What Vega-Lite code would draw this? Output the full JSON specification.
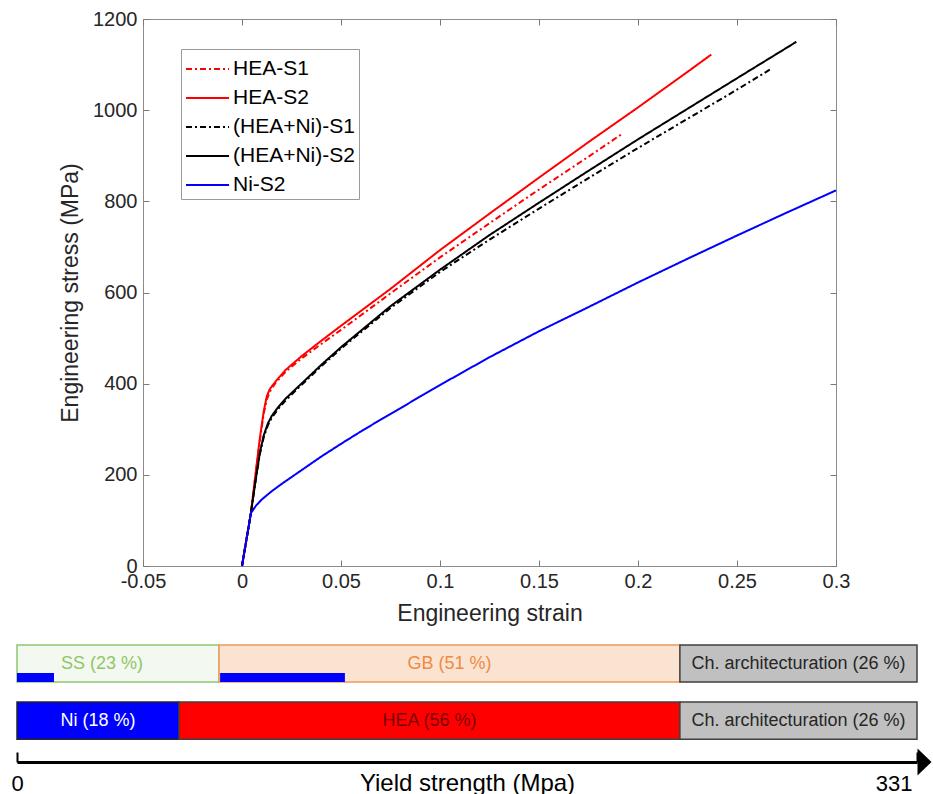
{
  "$schema": "https://vega.github.io/schema/vega-lite/v6.json",
  "padding": {"left": 10, "top": 8, "right": 0, "bottom": 0},
  "config": {"view": {"stroke": null}, "font": "Liberation Sans", "axis": {"grid": false}},
  "spacing": 18,
  "resolve": {
    "scale": {"color": "independent", "fill": "independent", "stroke": "independent", "strokeDash": "independent", "x": "independent", "y": "independent"},
    "legend": {"color": "independent", "strokeDash": "independent", "fill": "independent", "stroke": "independent"}
  },
  "vconcat": [
    {
      "spacing": 41,
      "resolve": {
        "scale": {"color": "independent", "strokeDash": "independent", "x": "independent", "y": "independent"},
        "legend": {"color": "independent", "strokeDash": "independent"}
      },
      "hconcat": [
        {"data": {"values": []}, "mark": "point", "width": 1, "height": 1},
        {
          "width": 693,
          "height": 547,
          "view": {"stroke": "#8c8c8c"},
          "data": {"values": [
            {"s": "HEA-S1", "e": 0, "v": 0}, {"s": "HEA-S1", "e": 0.0045, "v": 116}, {"s": "HEA-S1", "e": 0.007, "v": 205}, {"s": "HEA-S1", "e": 0.009, "v": 275}, {"s": "HEA-S1", "e": 0.011, "v": 335}, {"s": "HEA-S1", "e": 0.0125, "v": 365}, {"s": "HEA-S1", "e": 0.014, "v": 382}, {"s": "HEA-S1", "e": 0.017, "v": 402}, {"s": "HEA-S1", "e": 0.022, "v": 426}, {"s": "HEA-S1", "e": 0.03, "v": 455}, {"s": "HEA-S1", "e": 0.04, "v": 487}, {"s": "HEA-S1", "e": 0.05, "v": 518}, {"s": "HEA-S1", "e": 0.075, "v": 598}, {"s": "HEA-S1", "e": 0.1, "v": 677}, {"s": "HEA-S1", "e": 0.125, "v": 752}, {"s": "HEA-S1", "e": 0.15, "v": 826}, {"s": "HEA-S1", "e": 0.175, "v": 898}, {"s": "HEA-S1", "e": 0.192, "v": 948},
            {"s": "HEA-S2", "e": 0, "v": 0}, {"s": "HEA-S2", "e": 0.0045, "v": 116}, {"s": "HEA-S2", "e": 0.007, "v": 208}, {"s": "HEA-S2", "e": 0.009, "v": 280}, {"s": "HEA-S2", "e": 0.011, "v": 340}, {"s": "HEA-S2", "e": 0.0125, "v": 372}, {"s": "HEA-S2", "e": 0.014, "v": 388}, {"s": "HEA-S2", "e": 0.017, "v": 405}, {"s": "HEA-S2", "e": 0.022, "v": 430}, {"s": "HEA-S2", "e": 0.03, "v": 460}, {"s": "HEA-S2", "e": 0.04, "v": 494}, {"s": "HEA-S2", "e": 0.05, "v": 527}, {"s": "HEA-S2", "e": 0.075, "v": 608}, {"s": "HEA-S2", "e": 0.1, "v": 693}, {"s": "HEA-S2", "e": 0.125, "v": 773}, {"s": "HEA-S2", "e": 0.15, "v": 852}, {"s": "HEA-S2", "e": 0.175, "v": 930}, {"s": "HEA-S2", "e": 0.2, "v": 1006}, {"s": "HEA-S2", "e": 0.225, "v": 1084}, {"s": "HEA-S2", "e": 0.237, "v": 1122},
            {"s": "(HEA+Ni)-S1", "e": 0, "v": 0}, {"s": "(HEA+Ni)-S1", "e": 0.0045, "v": 116}, {"s": "(HEA+Ni)-S1", "e": 0.007, "v": 190}, {"s": "(HEA+Ni)-S1", "e": 0.009, "v": 245}, {"s": "(HEA+Ni)-S1", "e": 0.011, "v": 283}, {"s": "(HEA+Ni)-S1", "e": 0.013, "v": 308}, {"s": "(HEA+Ni)-S1", "e": 0.015, "v": 325}, {"s": "(HEA+Ni)-S1", "e": 0.018, "v": 343}, {"s": "(HEA+Ni)-S1", "e": 0.022, "v": 363}, {"s": "(HEA+Ni)-S1", "e": 0.03, "v": 397}, {"s": "(HEA+Ni)-S1", "e": 0.04, "v": 438}, {"s": "(HEA+Ni)-S1", "e": 0.05, "v": 477}, {"s": "(HEA+Ni)-S1", "e": 0.075, "v": 566}, {"s": "(HEA+Ni)-S1", "e": 0.1, "v": 645}, {"s": "(HEA+Ni)-S1", "e": 0.125, "v": 716}, {"s": "(HEA+Ni)-S1", "e": 0.15, "v": 784}, {"s": "(HEA+Ni)-S1", "e": 0.175, "v": 851}, {"s": "(HEA+Ni)-S1", "e": 0.2, "v": 917}, {"s": "(HEA+Ni)-S1", "e": 0.225, "v": 981}, {"s": "(HEA+Ni)-S1", "e": 0.25, "v": 1045}, {"s": "(HEA+Ni)-S1", "e": 0.267, "v": 1090},
            {"s": "(HEA+Ni)-S2", "e": 0, "v": 0}, {"s": "(HEA+Ni)-S2", "e": 0.0045, "v": 116}, {"s": "(HEA+Ni)-S2", "e": 0.007, "v": 192}, {"s": "(HEA+Ni)-S2", "e": 0.009, "v": 248}, {"s": "(HEA+Ni)-S2", "e": 0.011, "v": 287}, {"s": "(HEA+Ni)-S2", "e": 0.013, "v": 312}, {"s": "(HEA+Ni)-S2", "e": 0.015, "v": 329}, {"s": "(HEA+Ni)-S2", "e": 0.018, "v": 347}, {"s": "(HEA+Ni)-S2", "e": 0.022, "v": 367}, {"s": "(HEA+Ni)-S2", "e": 0.03, "v": 400}, {"s": "(HEA+Ni)-S2", "e": 0.04, "v": 441}, {"s": "(HEA+Ni)-S2", "e": 0.05, "v": 480}, {"s": "(HEA+Ni)-S2", "e": 0.075, "v": 570}, {"s": "(HEA+Ni)-S2", "e": 0.1, "v": 650}, {"s": "(HEA+Ni)-S2", "e": 0.125, "v": 726}, {"s": "(HEA+Ni)-S2", "e": 0.15, "v": 797}, {"s": "(HEA+Ni)-S2", "e": 0.175, "v": 867}, {"s": "(HEA+Ni)-S2", "e": 0.2, "v": 936}, {"s": "(HEA+Ni)-S2", "e": 0.225, "v": 1003}, {"s": "(HEA+Ni)-S2", "e": 0.25, "v": 1070}, {"s": "(HEA+Ni)-S2", "e": 0.28, "v": 1150},
            {"s": "Ni-S2", "e": 0, "v": 0}, {"s": "Ni-S2", "e": 0.002, "v": 52}, {"s": "Ni-S2", "e": 0.0045, "v": 116}, {"s": "Ni-S2", "e": 0.007, "v": 132}, {"s": "Ni-S2", "e": 0.01, "v": 146}, {"s": "Ni-S2", "e": 0.015, "v": 164}, {"s": "Ni-S2", "e": 0.02, "v": 180}, {"s": "Ni-S2", "e": 0.03, "v": 210}, {"s": "Ni-S2", "e": 0.04, "v": 240}, {"s": "Ni-S2", "e": 0.05, "v": 268}, {"s": "Ni-S2", "e": 0.06, "v": 295}, {"s": "Ni-S2", "e": 0.07, "v": 321}, {"s": "Ni-S2", "e": 0.08, "v": 346}, {"s": "Ni-S2", "e": 0.09, "v": 372}, {"s": "Ni-S2", "e": 0.1, "v": 397}, {"s": "Ni-S2", "e": 0.125, "v": 458}, {"s": "Ni-S2", "e": 0.15, "v": 515}, {"s": "Ni-S2", "e": 0.175, "v": 568}, {"s": "Ni-S2", "e": 0.2, "v": 622}, {"s": "Ni-S2", "e": 0.225, "v": 674}, {"s": "Ni-S2", "e": 0.25, "v": 725}, {"s": "Ni-S2", "e": 0.275, "v": 775}, {"s": "Ni-S2", "e": 0.3, "v": 824}
          ]},
          "layer": [
            {
              "mark": {"type": "line", "strokeWidth": 2},
              "encoding": {
                "x": {"field": "e", "type": "quantitative",
                  "scale": {"domain": [-0.05, 0.3], "nice": false, "zero": false},
                  "axis": {"title": "Engineering strain", "values": [-0.05, 0, 0.05, 0.1, 0.15, 0.2, 0.25, 0.3], "labelExpr": "'' + datum.value", "domain": false, "tickSize": -6, "tickColor": "#7a7a7a", "labelFontSize": 20, "labelColor": "#262626", "labelPadding": 11, "labelFlush": false, "labelOverlap": false, "titleFontSize": 23, "titleFontWeight": "normal", "titleColor": "#262626", "titlePadding": 11}},
                "y": {"field": "v", "type": "quantitative",
                  "scale": {"domain": [0, 1200], "nice": false},
                  "axis": {"title": "Engineering stress (MPa)", "values": [0, 200, 400, 600, 800, 1000, 1200], "format": "d", "domain": false, "tickSize": -6, "tickColor": "#7a7a7a", "labelFontSize": 20, "labelColor": "#262626", "labelPadding": 12, "labelFlush": false, "labelOverlap": false, "titleFontSize": 23, "titleFontWeight": "normal", "titleColor": "#262626", "titlePadding": 10}},
                "color": {"field": "s", "type": "nominal",
                  "scale": {"domain": ["HEA-S1", "HEA-S2", "(HEA+Ni)-S1", "(HEA+Ni)-S2", "Ni-S2"], "range": ["#ff0000", "#ff0000", "#000000", "#000000", "#0000ff"]},
                  "legend": {"title": null, "orient": "none", "legendX": 38, "legendY": 30, "fillColor": "white", "strokeColor": "#9a9a9a", "padding": 4, "labelFontSize": 21, "labelColor": "#000000", "symbolType": "M -1 0 L 1.87 0", "symbolSize": 900, "symbolStrokeWidth": 2, "rowPadding": 3, "labelOffset": 16}},
                "strokeDash": {"field": "s", "type": "nominal",
                  "scale": {"domain": ["HEA-S1", "HEA-S2", "(HEA+Ni)-S1", "(HEA+Ni)-S2", "Ni-S2"], "range": [[6, 3, 2, 3], [1, 0], [6, 3, 2, 3], [1, 0], [1, 0]]},
                  "legend": {"title": null, "orient": "none", "legendX": 38, "legendY": 30, "fillColor": "white", "strokeColor": "#9a9a9a", "padding": 4, "labelFontSize": 21, "labelColor": "#000000", "symbolType": "M -1 0 L 1.87 0", "symbolSize": 900, "symbolStrokeWidth": 2, "rowPadding": 3, "labelOffset": 16}}
              }
            },
            {
              "mark": {"type": "point", "opacity": 0},
              "encoding": {
                "x": {"field": "e", "type": "quantitative", "axis": {"orient": "top", "values": [-0.05, 0, 0.05, 0.1, 0.15, 0.2, 0.25, 0.3], "labels": false, "title": null, "domain": false, "tickSize": -6, "tickColor": "#7a7a7a"}},
                "y": {"field": "v", "type": "quantitative", "axis": {"orient": "right", "values": [0, 200, 400, 600, 800, 1000, 1200], "labels": false, "title": null, "domain": false, "tickSize": -6, "tickColor": "#7a7a7a"}}
              }
            }
          ],
          "resolve": {"axis": {"x": "independent", "y": "independent"}}
        }
      ]
    },
    {
      "width": 900,
      "height": 117,
      "data": {"values": [
        {"kind": "seg", "row": "r1", "part": "SS", "from": 0, "to": 74.3, "label": "SS (23 %)"},
        {"kind": "seg", "row": "r1", "part": "GB", "from": 74.3, "to": 243.8, "label": "GB (51 %)"},
        {"kind": "seg", "row": "r1", "part": "Ch", "from": 243.8, "to": 331, "label": "Ch. architecturation (26 %)"},
        {"kind": "seg", "row": "r2", "part": "Ni", "from": 0, "to": 59.6, "label": "Ni (18 %)"},
        {"kind": "seg", "row": "r2", "part": "HEA", "from": 59.6, "to": 243.8, "label": "HEA (56 %)"},
        {"kind": "seg", "row": "r2", "part": "Ch", "from": 243.8, "to": 331, "label": "Ch. architecturation (26 %)"},
        {"kind": "ni", "row": "r1", "part": "NiSS", "from": 0, "to": 13.6, "label": ""},
        {"kind": "ni", "row": "r1", "part": "NiGB", "from": 74.7, "to": 120.6, "label": ""}
      ]},
      "layer": [
        {
          "transform": [{"filter": "datum.kind === 'seg'"}],
          "mark": {"type": "bar", "strokeWidth": 1.5},
          "encoding": {
            "x": {"field": "from", "type": "quantitative",
              "scale": {"domain": [0, 331], "nice": false, "zero": false},
              "axis": {"title": "Yield strength (Mpa)", "values": [0, 331], "domainColor": "#000000", "domainWidth": 3, "tickColor": "#000000", "tickWidth": 2, "tickSize": -10, "labelFont": "Liberation Sans", "labelFontSize": 22, "labelColor": "#000000", "labelBaseline": "middle", "labelPadding": 31, "labelFlush": false, "labelOverlap": false,
                "labelAlign": {"condition": {"test": "datum.value > 300", "value": "right"}, "value": "center"},
                "labelOffset": {"condition": {"test": "datum.value > 300", "value": -5}, "value": 0},
                "titleFont": "Liberation Sans", "titleFontSize": 24, "titleFontWeight": "normal", "titleColor": "#000000", "titleY": 21, "titleBaseline": "middle"}},
            "x2": {"field": "to"},
            "y": {"field": "row", "type": "nominal", "axis": null,
              "scale": {"domain": ["r1", "r2"], "paddingInner": 0.351, "paddingOuter": 0.2, "align": 0}},
            "fill": {"field": "part", "type": "nominal", "legend": null,
              "scale": {"domain": ["SS", "GB", "Ch", "Ni", "HEA"], "range": ["#f3f8f0", "#fbe3d2", "#c0c0c0", "#0000ff", "#ff0000"]}},
            "stroke": {"field": "part", "type": "nominal", "legend": null,
              "scale": {"domain": ["SS", "GB", "Ch", "Ni", "HEA"], "range": ["#8cc870", "#ee9a5a", "#404040", "#262626", "#404040"]}}
          }
        },
        {
          "transform": [{"filter": "datum.kind === 'ni'"}],
          "mark": {"type": "bar", "height": 9, "yOffset": 14, "color": "#0000ff"},
          "encoding": {
            "x": {"field": "from", "type": "quantitative"},
            "x2": {"field": "to"},
            "y": {"field": "row", "type": "nominal"}
          }
        },
        {
          "transform": [{"filter": "datum.kind === 'seg'"}, {"calculate": "(datum.from + datum.to) / 2", "as": "mid"}],
          "mark": {"type": "text", "font": "Liberation Sans", "fontSize": 18, "xOffset": {"expr": "datum.part === 'SS' ? -16 : 0"}},
          "encoding": {
            "x": {"field": "mid", "type": "quantitative"},
            "y": {"field": "row", "type": "nominal"},
            "text": {"field": "label"},
            "color": {"field": "part", "type": "nominal", "legend": null,
              "scale": {"domain": ["SS", "GB", "Ch", "Ni", "HEA"], "range": ["#8fc766", "#ee8a45", "#262626", "#ffffff", "#7b0000"]}}
          }
        },
        {
          "data": {"values": [{"end": 331}]},
          "mark": {"type": "point", "shape": "M -0.52 -1 L 0.52 0 L -0.52 1 Z", "size": 729, "filled": true, "color": "#000000", "opacity": 1, "xOffset": 7.5},
          "encoding": {
            "x": {"field": "end", "type": "quantitative"},
            "y": {"value": 117}
          }
        }
      ]
    }
  ]
}
